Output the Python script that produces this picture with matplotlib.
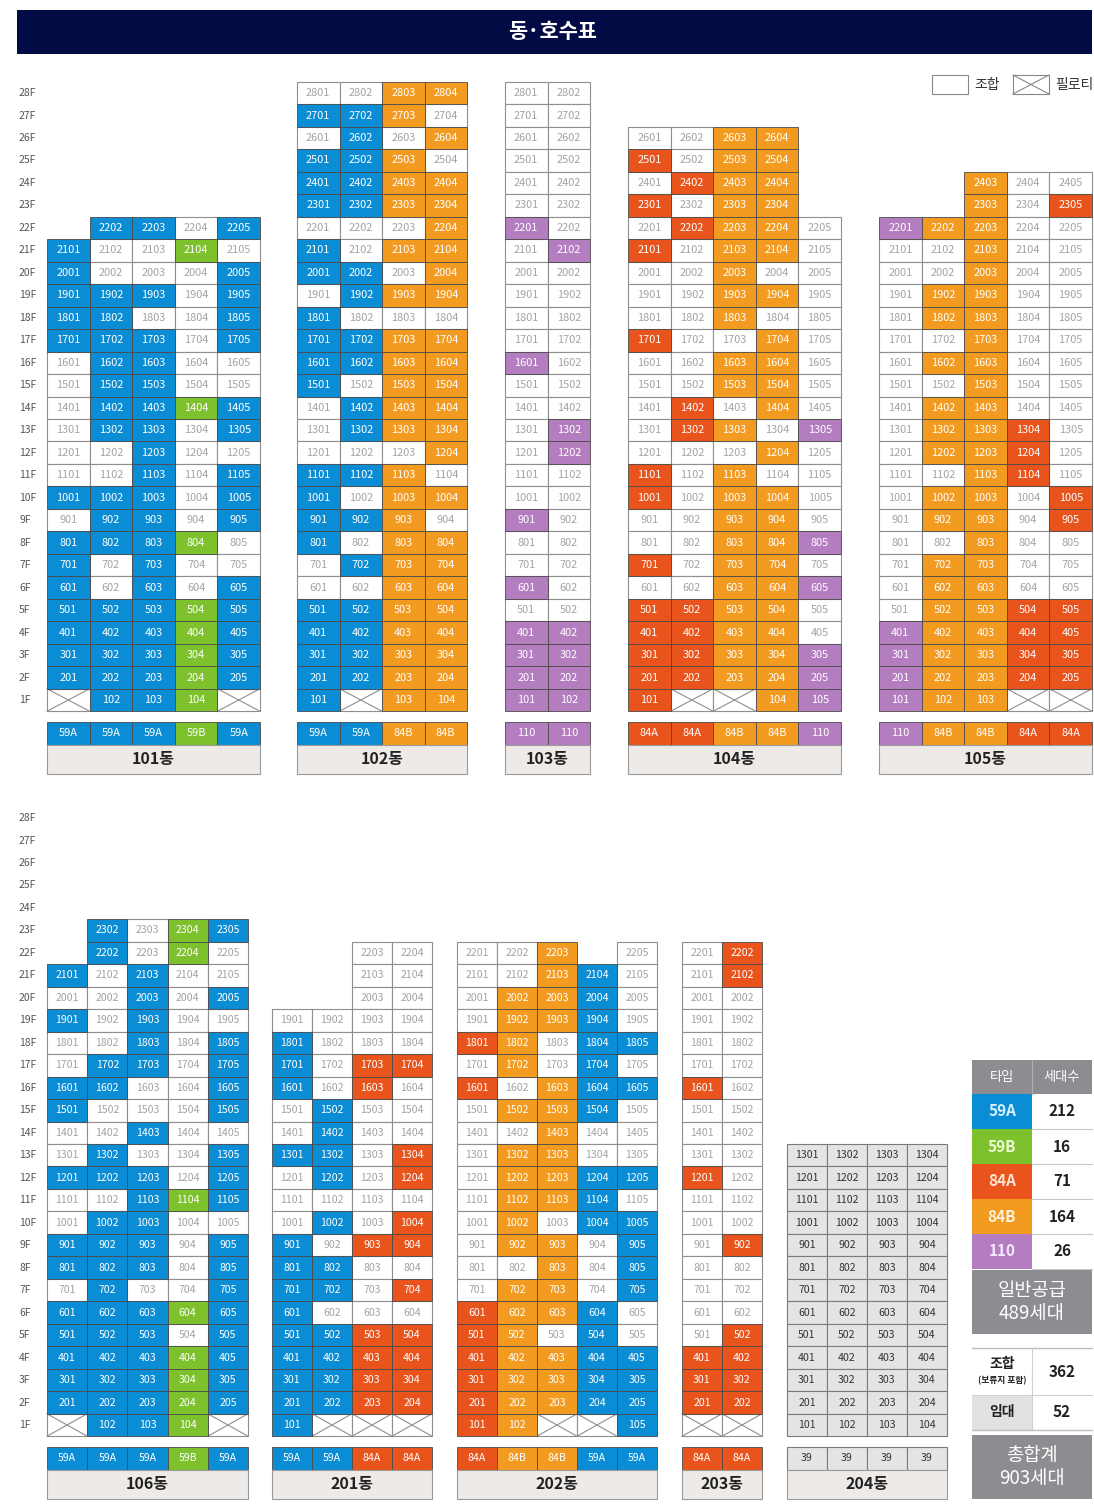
import matplotlib
matplotlib.use('Agg')
import matplotlib.pyplot as plt
from matplotlib.patches import Rectangle

plt.rcParams['font.family'] = ['Noto Sans CJK KR', 'DejaVu Sans']

# ---------------- DATA ----------------
# codes: B=59A, G=59B, R=84A, O=84B, P=110, W=조합(white), X=필로티, L=임대(grey), .=none
TYPE_CODE = {'59A': 'B', '59B': 'G', '84A': 'R', '84B': 'O', '110': 'P', '39': 'L'}

b101_top = 22
b101_types = ['59A', '59A', '59A', '59B', '59A']
b101_rows = ['.BBWB', 'BWWGW', 'BWWWB', 'BBBWB', 'BBWWB', 'BBBWB', 'WBBWW', 'WBBWW',
             'WBBGB', 'WBBWB', 'WWBWW', 'WWBWB', 'BBBWB', 'WBBWB', 'BBBGW', 'BWBWW',
             'BWBWB', 'BBBGB', 'BBBGB', 'BBBGB', 'BBBGB', 'XBBGX']

b102_top = 28
b102_types = ['59A', '59A', '84B', '84B']
b102_rows = ['WWOO', 'BBOW', 'WBWO', 'BBOW', 'BBOO', 'BBOO', 'WWWO', 'BWOO', 'BBWO',
             'WBOO', 'BWWW', 'BBOO', 'BBOO', 'BWOO', 'WBOO', 'WBOO', 'WWWO', 'BBOW',
             'BWOO', 'BBOW', 'BWOO', 'WBOO', 'WWOO', 'BBOO', 'BBOO', 'BBOO', 'BBOO', 'BXOO']

b103_top = 28
b103_types = ['110', '110']
b103_rows = ['WW', 'WW', 'WW', 'WW', 'WW', 'WW', 'PW', 'WP', 'WW', 'WW', 'WW', 'WW',
             'PW', 'WW', 'WW', 'WP', 'WP', 'WW', 'WW', 'PW', 'WW', 'WW', 'PW', 'WW',
             'PP', 'PP', 'PP', 'PP']

b104_top = 26
b104_types = ['84A', '84A', '84B', '84B', '110']
b104_rows = ['WWOO.', 'RWOO.', 'WROO.', 'RWOO.', 'WROOW', 'RWOOW', 'WWOWW', 'WWOOW',
             'WWOWW', 'RWWOW', 'WWOOW', 'WWOOW', 'WRWOW', 'WROWP', 'WWWOW', 'RWOWW',
             'RWOOW', 'WWOOW', 'WWOOP', 'RWOOW', 'WWOOP', 'RROOW', 'RROOW', 'RROOP',
             'RROOP', 'RXXOP']

b105_top = 24
b105_types = ['110', '84B', '84B', '84A', '84A']
b105_rows = ['..OWW', '..OWR', 'POOWW', 'WWOWW', 'WWOWW', 'WOOWW', 'WOOWW', 'WWOWW',
             'WOOWW', 'WWOWW', 'WOOWW', 'WOORW', 'WOORW', 'WWORW', 'WOOWR', 'WOOWR',
             'WWOWW', 'WOOWW', 'WOOWW', 'WOORR', 'POORR', 'POORR', 'POORR', 'POOXX']

b106_top = 23
b106_types = ['59A', '59A', '59A', '59B', '59A']
b106_rows = ['.BWGB', '.BWGW', 'BWBWW', 'WWBWB', 'BWBWW', 'WWBWB', 'WBBWB', 'BBWWB',
             'BWWWB', 'WWBWW', 'WBWWB', 'BBBWB', 'WWBGB', 'WBBWW', 'BBBWB', 'BBBWB',
             'WBWWB', 'BBBGB', 'BBBWB', 'BBBGB', 'BBBGB', 'BBBGB', 'XBBGX']

b201_top = 22
b201_types = ['59A', '59A', '84A', '84A']
b201_rows = ['..WW', '..WW', '..WW', 'WWWW', 'BWWW', 'BWRR', 'BWRW', 'WBWW', 'WBWW',
             'BBWR', 'WBWR', 'WWWW', 'WBWR', 'BWRR', 'BBWW', 'BBWR', 'BWWW', 'BBRR',
             'BBRR', 'BBRR', 'BBRR', 'BXXX']

b202_top = 22
b202_types = ['84A', '84B', '84B', '59A', '59A']
b202_rows = ['WWO.W', 'WWOBW', 'WOOBW', 'WOOBW', 'ROWBB', 'WOWBW', 'RWOBB', 'WOOBW',
             'WWOWW', 'WOOWW', 'WOOBB', 'WOOBW', 'WOWBB', 'WOOWB', 'WWOWB', 'WOOWB',
             'ROOBW', 'ROWBW', 'ROOBB', 'ROOBB', 'ROOBB', 'ROXXB']

b203_top = 22
b203_types = ['84A', '84A']
b203_rows = ['WR', 'WR', 'WW', 'WW', 'WW', 'WW', 'RW', 'WW', 'WW', 'WW', 'RW', 'WW',
             'WW', 'WR', 'WW', 'WW', 'WW', 'WR', 'RR', 'RR', 'RR', 'XX']

b204_top = 13
b204_types = ['39', '39', '39', '39']
b204_rows = ['LLLL'] * 13

summary_types = ['59A', '59B', '84A', '84B', '110']
summary_counts = [212, 16, 71, 164, 26]
general_total = 489
union_count = 362
rental_count = 52
grand_total = 903
floors = list(range(28, 0, -1))

# ---------------- STYLE / LAYOUT ----------------
COLORS = {'B': '#0b8dd5', 'G': '#7dc12c', 'R': '#e8541b', 'O': '#f39b20', 'P': '#b47dc0',
          'W': '#ffffff', 'X': '#ffffff', 'L': '#e4e4e4'}
TYPE_TXT = {'B': '#d8f1ff', 'G': '#eefbd8', 'R': '#ffe4d4', 'O': '#fff0d8', 'P': '#f8e8ff'}
PITCH = 22.48
PANEL_Y1 = {'top': 700.0, 'bot': 1425.0}

buildings = [
    ('101동', b101_top, b101_rows, b101_types, 47, 42.6, 'top'),
    ('102동', b102_top, b102_rows, b102_types, 297, 42.5, 'top'),
    ('103동', b103_top, b103_rows, b103_types, 505, 42.5, 'top'),
    ('104동', b104_top, b104_rows, b104_types, 628, 42.6, 'top'),
    ('105동', b105_top, b105_rows, b105_types, 879, 42.6, 'top'),
    ('106동', b106_top, b106_rows, b106_types, 47, 40.2, 'bot'),
    ('201동', b201_top, b201_rows, b201_types, 272, 40.0, 'bot'),
    ('202동', b202_top, b202_rows, b202_types, 457, 40.0, 'bot'),
    ('203동', b203_top, b203_rows, b203_types, 682, 40.0, 'bot'),
    ('204동', b204_top, b204_rows, b204_types, 787, 40.0, 'bot'),
]

W, H = 1094, 1509
fig = plt.figure(figsize=(W / 100, H / 100), dpi=100)
ax = fig.add_axes([0, 0, 1, 1])
ax.set_xlim(0, W)
ax.set_ylim(H, 0)
ax.axis('off')

# header
ax.add_patch(Rectangle((17, 10), 1075, 44, facecolor='#030b45', edgecolor='none'))
ax.text(553, 32, '동·호수표', color='white', fontsize=15, fontweight='bold',
        ha='center', va='center')

# legend
ax.add_patch(Rectangle((932, 75), 36, 19, facecolor='white', edgecolor='#888', lw=0.8))
ax.text(974, 85, '조합', fontsize=10, va='center', ha='left', color='#333')
ax.add_patch(Rectangle((1013, 75), 36, 19, facecolor='white', edgecolor='#888', lw=0.8))
ax.plot([1013, 1049], [75, 94], color='#888', lw=0.8)
ax.plot([1013, 1049], [94, 75], color='#888', lw=0.8)
ax.text(1055, 85, '필로티', fontsize=10, va='center', ha='left', color='#333')

# floor labels
for panel in ('top', 'bot'):
    for f in floors:
        y = PANEL_Y1[panel] - (f - 1) * PITCH
        ax.text(19, y, f'{f}F', fontsize=7.5, ha='left', va='center', color='#555')


def draw_building(name, top, rows, types, x0, cw, panel):
    y1 = PANEL_Y1[panel]
    fs = 7.9 if panel == 'top' else 7.6
    for layer in (0, 1):
        for i, row in enumerate(rows):
            floor = top - i
            yc = y1 - (floor - 1) * PITCH
            yt = yc - PITCH / 2
            for j, c in enumerate(row):
                if c == '.':
                    continue
                colored = c in 'BGROP'
                if (layer == 1) != colored:
                    continue
                x = x0 + j * cw
                if colored:
                    ax.add_patch(Rectangle((x, yt), cw, PITCH, facecolor=COLORS[c],
                                           edgecolor='#4a4a4a', lw=0.6, zorder=2))
                    ax.text(x + cw / 2, yc, str(floor * 100 + j + 1), fontsize=fs,
                            color='white', ha='center', va='center', zorder=3)
                elif c == 'X':
                    ax.add_patch(Rectangle((x, yt), cw, PITCH, facecolor='white',
                                           edgecolor='#8f8f8f', lw=0.8, zorder=1))
                    ax.plot([x, x + cw], [yt, yt + PITCH], color='#8f8f8f', lw=0.8, zorder=1)
                    ax.plot([x, x + cw], [yt + PITCH, yt], color='#8f8f8f', lw=0.8, zorder=1)
                elif c == 'L':
                    ax.add_patch(Rectangle((x, yt), cw, PITCH, facecolor=COLORS['L'],
                                           edgecolor='#7a7a7a', lw=0.8, zorder=1))
                    ax.text(x + cw / 2, yc, str(floor * 100 + j + 1), fontsize=fs,
                            color='#333333', ha='center', va='center', zorder=3)
                else:
                    ax.add_patch(Rectangle((x, yt), cw, PITCH, facecolor='white',
                                           edgecolor='#8f8f8f', lw=0.8, zorder=1))
                    ax.text(x + cw / 2, yc, str(floor * 100 + j + 1), fontsize=fs,
                            color='#a3a3a3', ha='center', va='center', zorder=3)
    # type row
    ty = y1 + PITCH / 2 + 11
    th = 22.5
    for j, t in enumerate(types):
        c = TYPE_CODE[t]
        x = x0 + j * cw
        if c == 'L':
            ax.add_patch(Rectangle((x, ty), cw, th, facecolor=COLORS['L'],
                                   edgecolor='#7a7a7a', lw=0.8, zorder=2))
            ax.text(x + cw / 2, ty + th / 2, t, fontsize=fs, color='#333',
                    ha='center', va='center', zorder=3)
        else:
            ax.add_patch(Rectangle((x, ty), cw, th, facecolor=COLORS[c],
                                   edgecolor='#4a4a4a', lw=0.6, zorder=2))
            ax.text(x + cw / 2, ty + th / 2, t, fontsize=fs, color='white',
                    ha='center', va='center', zorder=3)
    # name box
    ny = ty + th
    nw = cw * len(types)
    ax.add_patch(Rectangle((x0, ny), nw, 29, facecolor='#eeeae7', edgecolor='#9a9a9a',
                           lw=0.8, zorder=2))
    ax.text(x0 + nw / 2, ny + 14.5, name, fontsize=11.5, fontweight='bold', color='#222',
            ha='center', va='center', zorder=3)


for b in buildings:
    draw_building(*b)

# summary table
SX0, SXM, SX1 = 972, 1032, 1092
GREY = '#8d8d91'
ax.add_patch(Rectangle((SX0, 1060), SX1 - SX0, 34, facecolor=GREY, edgecolor='none'))
ax.plot([SXM, SXM], [1060, 1094], color='#b0b0b0', lw=0.8)
ax.text((SX0 + SXM) / 2, 1077, '타입', color='white', fontsize=9.5, ha='center', va='center')
ax.text((SXM + SX1) / 2, 1077, '세대수', color='white', fontsize=9.5, ha='center', va='center')
rh = 35
for k, (t, n) in enumerate(zip(summary_types, summary_counts)):
    y = 1094 + k * rh
    c = TYPE_CODE[t]
    ax.add_patch(Rectangle((SX0, y), SXM - SX0, rh, facecolor=COLORS[c], edgecolor='none'))
    ax.plot([SXM, SX1], [y + rh, y + rh], color='#c8c8c8', lw=0.8)
    ax.text((SX0 + SXM) / 2, y + rh / 2, t, color=TYPE_TXT[c], fontsize=11,
            fontweight='bold', ha='center', va='center')
    ax.text((SXM + SX1) / 2, y + rh / 2, str(n), color='#222', fontsize=11,
            fontweight='bold', ha='center', va='center')
ax.add_patch(Rectangle((SX0, 1270), SX1 - SX0, 64, facecolor=GREY, edgecolor='none'))
ax.text((SX0 + SX1) / 2, 1302, f'일반공급\n{general_total}세대', color='white', fontsize=13.5,
        ha='center', va='center', linespacing=1.15)

ax.plot([SX0, SX1], [1348, 1348], color='#bdbdbd', lw=1.0)
ax.plot([SXM, SXM], [1348, 1430], color='#cfcfcf', lw=0.8)
ax.text((SX0 + SXM) / 2, 1364, '조합', color='#222', fontsize=10, fontweight='bold',
        ha='center', va='center')
ax.text((SX0 + SXM) / 2, 1381, '(보류지 포함)', color='#222', fontsize=6.3, fontweight='bold',
        ha='center', va='center')
ax.text((SXM + SX1) / 2, 1372, str(union_count), color='#222', fontsize=11,
        fontweight='bold', ha='center', va='center')
ax.plot([SX0, SX1], [1395, 1395], color='#cfcfcf', lw=0.8)
ax.add_patch(Rectangle((SX0, 1395), SXM - SX0, 35, facecolor='#e2e2e2', edgecolor='none'))
ax.text((SX0 + SXM) / 2, 1412, '임대', color='#222', fontsize=10, fontweight='bold',
        ha='center', va='center')
ax.text((SXM + SX1) / 2, 1412, str(rental_count), color='#222', fontsize=11,
        fontweight='bold', ha='center', va='center')
ax.plot([SX0, SX1], [1430, 1430], color='#bdbdbd', lw=1.0)
ax.add_patch(Rectangle((SX0, 1435), SX1 - SX0, 64, facecolor=GREY, edgecolor='none'))
ax.text((SX0 + SX1) / 2, 1467, f'총합계\n{grand_total}세대', color='white', fontsize=13.5,
        ha='center', va='center', linespacing=1.15)

fig.savefig('out.png', dpi=100)
